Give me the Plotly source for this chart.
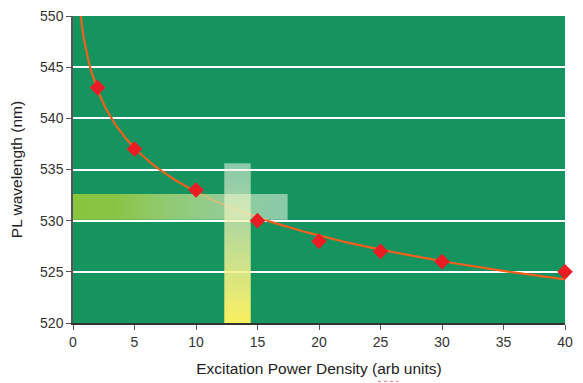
import numpy as np
import plotly.graph_objects as go

# Data
power = [2, 5, 10, 15, 20, 25, 30, 40]
wavelength = [543, 537, 533, 530, 528, 527, 526, 525]
x_ticks = [0, 5, 10, 15, 20, 25, 30, 35, 40]
y_ticks = [520, 525, 530, 535, 540, 545, 550]

# highlight bands (data coordinates)
h_band_x = [0, 17.45]
h_band_y = [530.1, 532.6]
v_band_x = [12.3, 14.45]
v_band_y = [520, 535.6]

# logarithmic trendline fitted to the data
b, a = np.polyfit(np.log(power), wavelength, 1)
xf = np.linspace(0.5, 40, 300)
yf = a + b * np.log(xf)

fig = go.Figure()

fig.add_trace(go.Scatter(x=xf, y=yf, mode="lines",
                         line=dict(color="#F0601E", width=2.2), hoverinfo="skip"))

fig.add_trace(go.Scatter(
    x=[h_band_x[0], h_band_x[1], h_band_x[1], h_band_x[0], h_band_x[0]],
    y=[h_band_y[0], h_band_y[0], h_band_y[1], h_band_y[1], h_band_y[0]],
    mode="lines", line=dict(width=0), fill="toself",
    fillgradient=dict(type="horizontal",
                      colorscale=[[0, "rgba(137,196,62,1)"],
                                  [0.2, "rgba(140,198,68,0.97)"],
                                  [1, "rgba(232,244,232,0.55)"]]),
    hoverinfo="skip"))

fig.add_trace(go.Scatter(
    x=[v_band_x[0], v_band_x[1], v_band_x[1], v_band_x[0], v_band_x[0]],
    y=[v_band_y[0], v_band_y[0], v_band_y[1], v_band_y[1], v_band_y[0]],
    mode="lines", line=dict(width=0), fill="toself",
    fillgradient=dict(type="vertical",
                      colorscale=[[0, "rgba(250,240,95,1)"],
                                  [1, "rgba(232,244,232,0.55)"]]),
    hoverinfo="skip"))

fig.add_trace(go.Scatter(x=power, y=wavelength, mode="markers",
                         marker=dict(symbol="diamond", size=12, color="#EC1C24",
                                     line=dict(width=0)),
                         cliponaxis=False))

# spell-check squiggle under "arb"
fig.add_shape(type="line", xref="paper", yref="paper",
              x0=0.62, x1=0.661, y0=-0.19, y1=-0.19,
              line=dict(color="#E07070", width=1, dash="dot"))

font_family = "Liberation Sans, Arial, sans-serif"

fig.update_layout(
    width=575, height=375,
    margin=dict(l=65, r=18, t=8, b=60, autoexpand=False),
    paper_bgcolor="white",
    plot_bgcolor="#15945F",
    showlegend=False,
    font=dict(family=font_family, size=14, color="#333333"),
    xaxis=dict(range=[0, 40], tickvals=x_ticks, showgrid=False, zeroline=False,
               automargin=False,
               showline=True, linecolor="#333333", linewidth=2,
               ticks="outside", ticklen=5, tickcolor="#555555",
               tickfont=dict(size=14, color="#333333"),
               ticklabeloverflow="allow",
               title=dict(text="Excitation Power Density (arb units)",
                          font=dict(size=15.5, color="#222222"), standoff=14)),
    yaxis=dict(range=[520, 550], tickvals=y_ticks, showgrid=True,
               automargin=False,
               gridcolor="white", gridwidth=2, zeroline=False,
               showline=True, linecolor="#555555", linewidth=1.5,
               ticks="outside", ticklen=5, tickcolor="#555555",
               tickfont=dict(size=14, color="#333333"),
               ticklabeloverflow="allow",
               title=dict(text="PL wavelength (nm)",
                          font=dict(size=15.5, color="#222222"), standoff=22)),
)

fig.write_html("out.html")
